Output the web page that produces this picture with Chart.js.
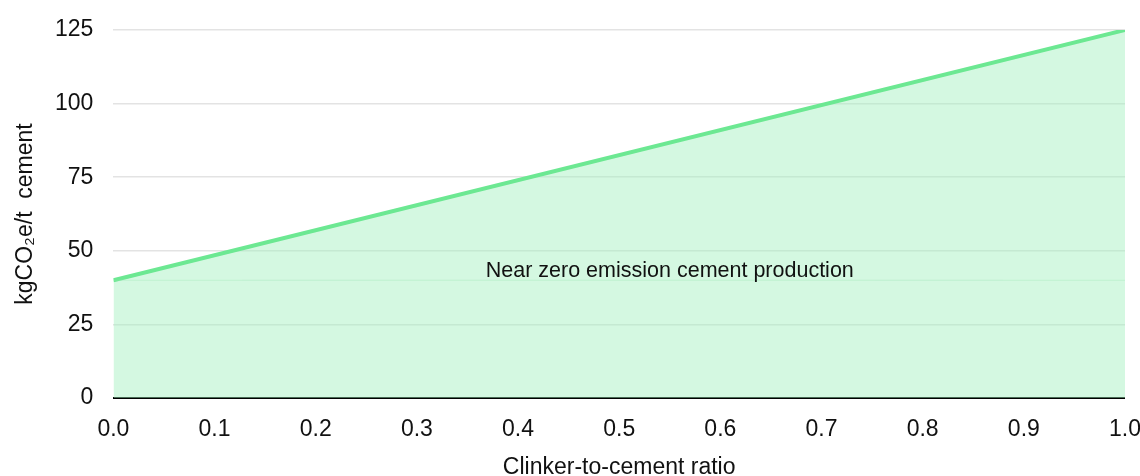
<!DOCTYPE html>
<html>
<head>
<meta charset="utf-8">
<script src="https://cdn.jsdelivr.net/npm/chart.js@4/dist/chart.umd.min.js"></script>
<style>
  html, body { margin: 0; padding: 0; background: #fff; }
  #wrap { width: 1140px; height: 476px; }
</style>
</head>
<body>
<div id="wrap"><canvas id="myChart"></canvas></div>
<script>
// data
const ratios = [0.0, 1.0];
const emissions = [40, 125];
const bandLevel = [40, 40];
const yTicks = [0, 25, 50, 75, 100, 125];
const bandLabel = "Near zero emission cement production";
const bandLabelAt = { x: 0.55, y: 43 };

const font = "'Liberation Sans', Arial, sans-serif";

const labelPlugin = {
  id: "bandLabel",
  afterDatasetsDraw(chart) {
    const { ctx, scales } = chart;
    ctx.save();
    ctx.font = "21.5px " + font;
    ctx.fillStyle = "#111";
    ctx.textAlign = "center";
    ctx.textBaseline = "middle";
    ctx.fillText(bandLabel, scales.x.getPixelForValue(bandLabelAt.x), scales.y.getPixelForValue(bandLabelAt.y));
    ctx.restore();
  },
};

new Chart(document.getElementById("myChart"), {
  type: "line",
  data: {
    datasets: [
      {
        label: "Emissions",
        data: ratios.map((r, i) => ({ x: r, y: emissions[i] })),
        borderColor: "#6ce892",
        backgroundColor: "rgba(160,240,188,0.45)",
        borderWidth: 4,
        pointRadius: 0,
        fill: "origin",
        order: 2,
      },
      {
        label: "Band",
        data: ratios.map((r, i) => ({ x: r, y: bandLevel[i] })),
        borderColor: "rgba(150,225,175,0.35)",
        borderWidth: 1,
        pointRadius: 0,
        fill: false,
        order: 1,
      },
    ],
  },
  options: {
    responsive: true,
    maintainAspectRatio: false,
    animation: false,
    layout: { padding: { left: 14, right: 15, top: 30, bottom: 0 } },
    plugins: { legend: { display: false }, tooltip: { enabled: false } },
    scales: {
      x: {
        type: "linear",
        min: 0,
        max: 1,
        grid: { display: false, drawTicks: false },
        border: { display: false },
        afterFit: (s) => {
          s.height = 78;
          s.paddingLeft = 0;
          s.paddingRight = 0;
        },
        ticks: {
          stepSize: 0.1,
          maxRotation: 0,
          padding: 18,
          color: "#111",
          font: { size: 23, family: font },
          callback: (v) => v.toFixed(1),
        },
        title: {
          display: true,
          text: "Clinker-to-cement ratio",
          color: "#111",
          font: { size: 23, family: font, lineHeight: 1 },
          padding: { top: 12, bottom: -3 },
        },
      },
      y: {
        min: 0,
        max: 125,
        afterBuildTicks: (axis) => { axis.ticks = yTicks.map((v) => ({ value: v })); },
        afterFit: (s) => {
          s.paddingTop = 0;
          s.paddingBottom = 0;
        },
        grid: {
          drawTicks: false,
          color: (c) => (c.tick.value === 0 ? "#000" : "#e3e3e3"),
          lineWidth: (c) => (c.tick.value === 0 ? 2 : 1.5),
        },
        border: { display: false },
        ticks: {
          padding: 20,
          color: "#111",
          font: { size: 23, family: font },
        },
        title: {
          display: true,
          text: "kgCO₂e/t  cement",
          color: "#111",
          font: { size: 23, family: font, lineHeight: 1 },
          padding: { top: 0, bottom: -2 },
        },
      },
    },
  },
  plugins: [labelPlugin],
});
</script>
</body>
</html>
